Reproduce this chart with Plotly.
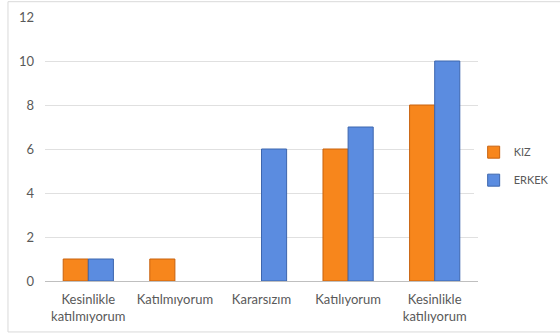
import plotly.graph_objects as go

kategoriler = ["Kesinlikle<br>katılmıyorum", "Katılmıyorum", "Kararsızım",
               "Katılıyorum", "Kesinlikle<br>katılıyorum"]
kiz = [1, 1, 0, 6, 8]
erkek = [1, 0, 6, 7, 10]
y_ticks = [0, 2, 4, 6, 8, 10, 12]

fig = go.Figure()
fig.add_trace(go.Bar(x=kategoriler, y=kiz, name="KIZ",
                     marker=dict(color="#F7861C",
                                 line=dict(color="#C8620E", width=[1 if v else 0 for v in kiz])),
                     legendgroup="a"))
fig.add_trace(go.Bar(x=kategoriler, y=erkek, name="ERKEK",
                     marker=dict(color="#5B8CE0",
                                 line=dict(color="#3D66AE", width=[1 if v else 0 for v in erkek])),
                     legendgroup="b"))

fig.update_layout(
    width=560, height=334,
    margin=dict(l=45, r=82, t=17, b=53, autoexpand=False),
    paper_bgcolor="white", plot_bgcolor="white",
    barmode="group", bargap=0.42, bargroupgap=0,
    font=dict(family="Lato, Open Sans, sans-serif", size=13, color="#595959"),
    legend=dict(x=0.99, y=0.435, xanchor="left", yanchor="middle",
                traceorder="grouped", tracegroupgap=9,
                font=dict(size=11, color="#595959"), itemwidth=30),
    showlegend=True,
    shapes=[dict(type="rect", xref="paper", yref="paper", x0=-0.0855, x1=1.2,
                 y0=-0.193, y1=1.058, line=dict(color="#D9D9D9", width=1))],
)
fig.update_yaxes(range=[0, 12], tickvals=y_ticks, showgrid=True,
                 gridcolor="#E0E0E0", zeroline=False, showline=False,
                 ticks="", ticklen=0, ticklabelstandoff=10)
fig.update_xaxes(showline=True, linecolor="#BFBFBF", showgrid=False, ticks="",
                 ticklabelstandoff=6)

# remove the default page margin so the figure sits at the window corner
fig.write_html("out.html", config={"displayModeBar": False},
               post_script="document.body.style.margin='0px';")
